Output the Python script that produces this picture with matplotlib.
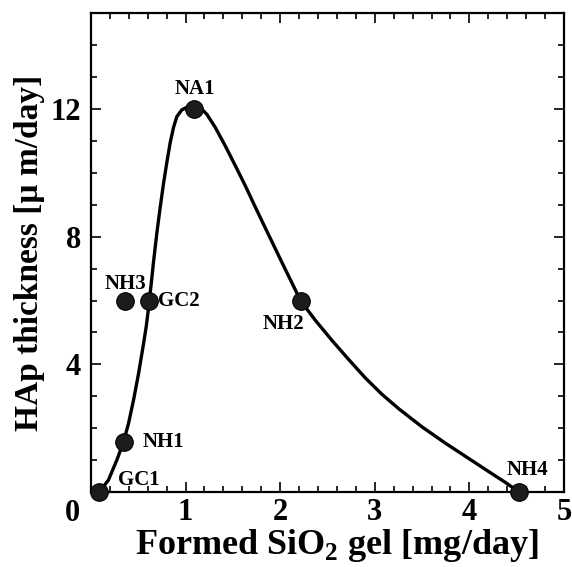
import numpy as np
import matplotlib
matplotlib.use("Agg")
import matplotlib.pyplot as plt
from matplotlib.ticker import MultipleLocator

plt.rcParams['font.family'] = ['Liberation Serif', 'DejaVu Serif']
plt.rcParams['font.weight'] = 'bold'
plt.rcParams['mathtext.fontset'] = 'custom'
plt.rcParams['mathtext.rm'] = 'Liberation Serif:bold'
plt.rcParams['mathtext.bf'] = 'Liberation Serif:bold'

# Samples: formed SiO2 gel vs HAp thickness
samples = ['GC1', 'NH1', 'NH3', 'GC2', 'NA1', 'NH2', 'NH4']
sio2 = [0.09, 0.35, 0.365, 0.61, 1.085, 2.215, 4.525]
hap = [0.0, 1.57, 6.0, 6.0, 12.0, 6.0, 0.0]

# Hand-drawn trend curve
curve_x = [0.087, 0.185, 0.273, 0.344, 0.397, 0.450, 0.503, 0.556, 0.585,
           0.610, 0.636, 0.661, 0.696, 0.732, 0.767, 0.802, 0.838, 0.873,
           0.908, 0.961, 1.014, 1.085, 1.156, 1.225, 1.314, 1.420, 1.526,
           1.632, 1.738, 1.843, 1.949, 2.055, 2.161, 2.214, 2.372, 2.548,
           2.725, 2.902, 3.077, 3.254, 3.501, 3.748, 3.995, 4.206, 4.383,
           4.524]
curve_y = [0.0, 0.38, 1.0, 1.57, 2.15, 2.88, 3.71, 4.65, 5.2,
           5.8, 6.5, 7.2, 8.1, 8.92, 9.66, 10.32, 10.95, 11.42,
           11.76, 11.97, 12.05, 12.06, 12.04, 11.83, 11.42, 10.84, 10.22,
           9.59, 8.92, 8.27, 7.62, 6.97, 6.33, 6.0, 5.38, 4.75,
           4.15, 3.57, 3.06, 2.61, 2.04, 1.53, 1.05, 0.64, 0.30,
           0.0]

fig = plt.figure(figsize=(5.72, 5.67), dpi=100)
ax = fig.add_axes([0.159, 0.132, 0.827, 0.845])

ax.plot(curve_x, curve_y, color='black', lw=2.4, solid_capstyle='round',
        solid_joinstyle='round', zorder=2)
ax.scatter(sio2, hap, s=160, color='#1c1c1c', edgecolors='black', linewidths=0.8,
           zorder=3, clip_on=False)

# sample labels
lbl = dict(fontsize=15, fontweight='bold')
ax.text(1.095, 12.63, 'NA1', ha='center', va='center', **lbl)
ax.text(0.365, 6.53, 'NH3', ha='center', va='center', **lbl)
ax.text(0.71, 6.0, 'GC2', ha='left', va='center', **lbl)
ax.text(0.55, 1.56, 'NH1', ha='left', va='center', **lbl)
ax.text(0.29, 0.39, 'GC1', ha='left', va='center', **lbl)
ax.text(2.03, 5.28, 'NH2', ha='center', va='center', **lbl)
ax.text(4.61, 0.69, 'NH4', ha='center', va='center', **lbl)

ax.set_xlim(0, 5)
ax.set_ylim(0, 15)
ax.xaxis.set_minor_locator(MultipleLocator(0.2))
ax.yaxis.set_minor_locator(MultipleLocator(1))
ax.set_xticks([1, 2, 3, 4, 5])
ax.set_yticks([4, 8, 12])
ax.tick_params(which='both', direction='in', top=True, right=True, width=1.2)
ax.tick_params(which='major', length=7, labelsize=22)
ax.tick_params(which='minor', length=4)
ax.tick_params(axis='y', pad=7)
ax.tick_params(axis='x', pad=4)
for s in ax.spines.values():
    s.set_linewidth(1.6)

# shared origin label
ax.text(-0.04, -0.045, '0', transform=ax.transAxes, ha='center', va='center',
        fontsize=22, fontweight='bold')

ax.set_xlabel(r'Formed SiO$_{\mathbf{2}}$ gel [mg/day]', fontsize=26,
              fontweight='bold', labelpad=0)
ax.xaxis.label.set_x(0.52)
ax.set_ylabel('HAp thickness [μ m/day]', fontsize=24, fontweight='bold', labelpad=4)

fig.savefig('out.png', dpi=100)
